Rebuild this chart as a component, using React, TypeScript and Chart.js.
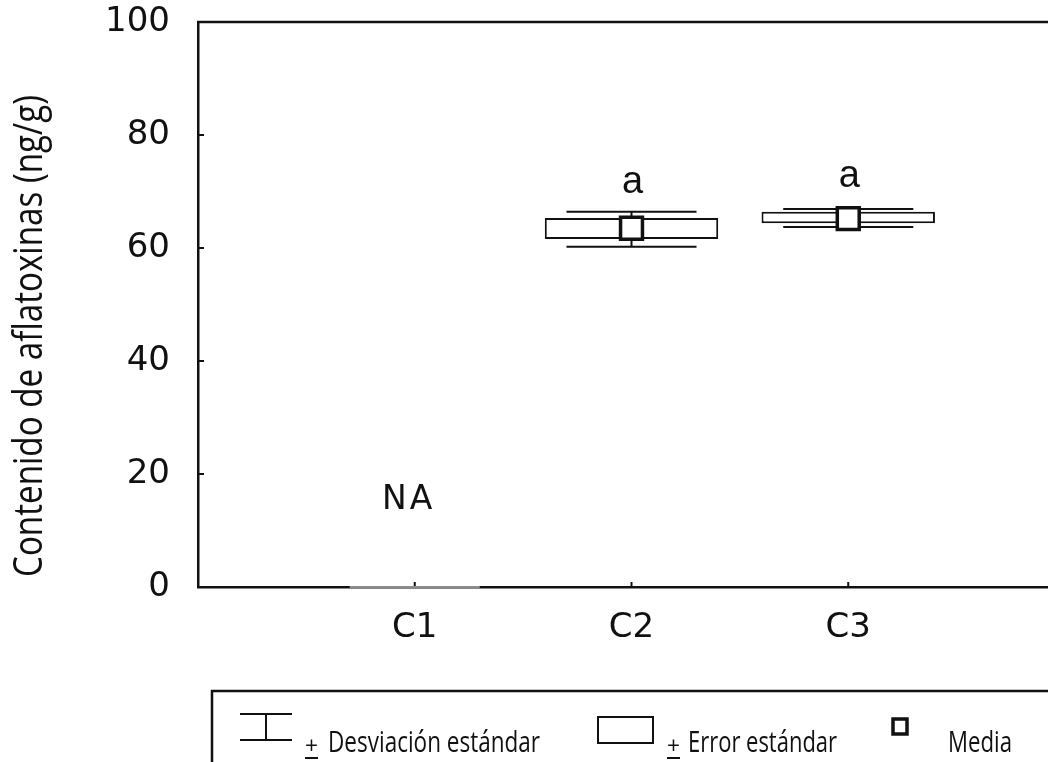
import React, { useEffect, useRef } from 'react';
import { Chart, registerables } from 'chart.js';

Chart.register(...registerables);

// ---- data ----
const categories = ['C1', 'C2', 'C3'];
const meanValues: (number | null)[] = [null, 63.5, 65.2];
const seLow: (number | null)[] = [null, 61.6, 64.4];
const seHigh: (number | null)[] = [null, 65.3, 66.4];
const sdLow = [0, 60.2, 63.7];
const sdHigh = [0, 66.4, 66.9];
const groupLetters = ['NA', 'a', 'a'];
const letterValues = [15.4, 71.6, 72.7];
const yTickStep = 20;
const yMin = 0;
const yMax = 100;
const yTitle = 'Contenido de aflatoxinas (ng/g)';
const legendLabels = ['Desviación estándar', 'Error estándar', 'Media'];

const TICK_FONT = '"DejaVu Sans", Verdana, sans-serif';
const TEXT_FONT = '"Open Sans", "Noto Sans", sans-serif';

function fillFit(ctx: CanvasRenderingContext2D, text: string, x: number, y: number, width: number) {
  const w = ctx.measureText(text).width;
  ctx.save();
  ctx.translate(x, y);
  ctx.scale(width / w, 1);
  ctx.fillText(text, 0, 0);
  ctx.restore();
}

const customPlugin = {
  id: 'customDraw',
  beforeDatasetsDraw(chart: any) {
    const { ctx, chartArea, scales } = chart;
    const x = scales.x;
    const y = scales.y;
    ctx.save();
    // top frame line
    ctx.strokeStyle = '#111';
    ctx.lineWidth = 2.5;
    ctx.beginPath();
    ctx.moveTo(chartArea.left - 1, chartArea.top);
    ctx.lineTo(chartArea.right, chartArea.top);
    ctx.stroke();
    // inward ticks
    ctx.lineWidth = 2;
    ctx.beginPath();
    for (let v = yMin + yTickStep; v < yMax; v += yTickStep) {
      const py = y.getPixelForValue(v);
      ctx.moveTo(chartArea.left, py);
      ctx.lineTo(chartArea.left + 6, py);
    }
    categories.forEach((_, i) => {
      const px = x.getPixelForValue(i + 1);
      ctx.moveTo(px, chartArea.bottom);
      ctx.lineTo(px, chartArea.bottom - 5);
    });
    ctx.stroke();
    // whiskers (standard deviation)
    const half = x.getPixelForValue(1.3) - x.getPixelForValue(1);
    categories.forEach((_, i) => {
      const px = x.getPixelForValue(i + 1);
      const top = y.getPixelForValue(sdHigh[i]);
      const bot = y.getPixelForValue(sdLow[i]);
      const flat = sdHigh[i] === sdLow[i];
      ctx.strokeStyle = flat ? '#8c8c8c' : '#111';
      ctx.lineWidth = 2;
      ctx.beginPath();
      ctx.moveTo(px - half, top);
      ctx.lineTo(px + half, top);
      if (!flat) {
        ctx.moveTo(px - half, bot);
        ctx.lineTo(px + half, bot);
        ctx.moveTo(px, top);
        ctx.lineTo(px, bot);
      }
      ctx.stroke();
    });
    ctx.restore();
  },
  afterDraw(chart: any) {
    const { ctx, scales } = chart;
    const x = scales.x;
    const y = scales.y;
    ctx.save();
    ctx.fillStyle = '#111';
    // group letters
    ctx.textAlign = 'center';
    ctx.textBaseline = 'middle';
    categories.forEach((_, i) => {
      const t = groupLetters[i];
      const px = x.getPixelForValue(i + 1);
      const py = y.getPixelForValue(letterValues[i]);
      if (t === 'NA') {
        ctx.font = `33px ${TICK_FONT}`;
        (ctx as any).letterSpacing = '3px';
        ctx.fillText(t, px - 6, py);
        (ctx as any).letterSpacing = '0px';
      } else {
        ctx.font = `38px "Liberation Sans", Arial, sans-serif`;
        ctx.fillText(t, px + 1, py);
      }
    });
    // y title
    ctx.save();
    ctx.translate(31, 336);
    ctx.rotate(-Math.PI / 2);
    ctx.font = `40px ${TEXT_FONT}`;
    ctx.textAlign = 'left';
    ctx.textBaseline = 'middle';
    fillFit(ctx, yTitle, -241, 0, 482);
    ctx.restore();

    // legend box
    ctx.strokeStyle = '#111';
    ctx.lineWidth = 2.5;
    ctx.strokeRect(212, 691, 1000, 200);
    ctx.lineWidth = 2;
    // SD symbol
    ctx.beginPath();
    ctx.moveTo(240, 714); ctx.lineTo(292, 714);
    ctx.moveTo(240, 740); ctx.lineTo(292, 740);
    ctx.moveTo(266, 714); ctx.lineTo(266, 740);
    ctx.stroke();
    // SE symbol
    ctx.strokeRect(598, 717, 55, 26);
    // mean symbol
    ctx.lineWidth = 3.5;
    ctx.strokeRect(893, 719, 14, 15);
    // texts
    ctx.textAlign = 'left';
    ctx.textBaseline = 'alphabetic';
    ctx.font = `24px ${TEXT_FONT}`;
    fillFit(ctx, '+', 305, 754, 13);
    fillFit(ctx, '+', 667, 754, 13);
    ctx.lineWidth = 2;
    ctx.beginPath();
    ctx.moveTo(305, 758); ctx.lineTo(318, 758);
    ctx.moveTo(667, 758); ctx.lineTo(680, 758);
    ctx.stroke();
    ctx.font = `30px ${TEXT_FONT}`;
    fillFit(ctx, legendLabels[0], 328, 752, 212);
    fillFit(ctx, legendLabels[1], 688, 752, 149);
    fillFit(ctx, legendLabels[2], 948, 752, 64);
    ctx.restore();
  },
};

export default function App() {
  const canvasRef = useRef<HTMLCanvasElement | null>(null);

  useEffect(() => {
    if (!canvasRef.current) return;
    const chart = new Chart(canvasRef.current, {
      type: 'bar',
      data: {
        datasets: [
          {
            type: 'bar',
            label: 'Error estándar',
            data: categories.map((_, i) => ({
              x: i + 1,
              y: seLow[i] == null ? null : [seLow[i] as number, seHigh[i] as number],
            })) as any,
            backgroundColor: '#ffffff',
            borderColor: '#111',
            borderWidth: 2,
            borderSkipped: false,
            barPercentage: 0.8,
            categoryPercentage: 1,
            order: 2,
          } as any,
          {
            type: 'scatter',
            label: 'Media',
            data: categories.map((_, i) => ({ x: i + 1, y: meanValues[i] })) as any,
            pointStyle: 'rect',
            pointRadius: 15.5,
            pointBorderWidth: 3.5,
            pointBackgroundColor: '#ffffff',
            pointBorderColor: '#111',
            order: 1,
          } as any,
        ],
      },
      options: {
        animation: false,
        responsive: false,
        devicePixelRatio: 1,
        layout: { padding: { top: 22, left: 0, right: 0, bottom: 0 } },
        plugins: {
          legend: { display: false },
          tooltip: { enabled: false },
          title: { display: false },
        },
        scales: {
          x: {
            type: 'linear',
            offset: false,
            min: 0,
            max: categories.length + 1,
            grid: { display: false, drawTicks: false, offset: false },
            border: { display: true, color: '#111', width: 2.5 },
            afterBuildTicks: (s: any) => {
              s.ticks = categories.map((_, i) => ({ value: i + 1 }));
            },
            afterFit: (s: any) => {
              s.height = 175;
              s.paddingLeft = 0;
              s.paddingRight = 0;
            },
            ticks: {
              autoSkip: false,
              maxRotation: 0,
              padding: 21,
              color: '#111',
              font: { family: TICK_FONT, size: 34 },
              callback: (v: any) => categories[Number(v) - 1] ?? '',
            },
          },
          y: {
            type: 'linear',
            min: yMin,
            max: yMax,
            grid: { display: false, drawTicks: false },
            border: { display: true, color: '#111', width: 2.5 },
            afterFit: (s: any) => {
              s.width = 198;
              s.paddingTop = 0;
              s.paddingBottom = 0;
            },
            ticks: {
              stepSize: yTickStep,
              padding: 28,
              color: '#111',
              font: { family: TICK_FONT, size: 34 },
            },
          },
        },
      },
      plugins: [customPlugin],
    });
    return () => chart.destroy();
  }, []);

  return (
    <div style={{ position: 'fixed', left: 0, top: 0, width: 1048, height: 762, overflow: 'hidden', background: '#fff' }}>
      <canvas ref={canvasRef} width={1084} height={762} style={{ display: 'block', width: 1084, height: 762 }} />
    </div>
  );
}
